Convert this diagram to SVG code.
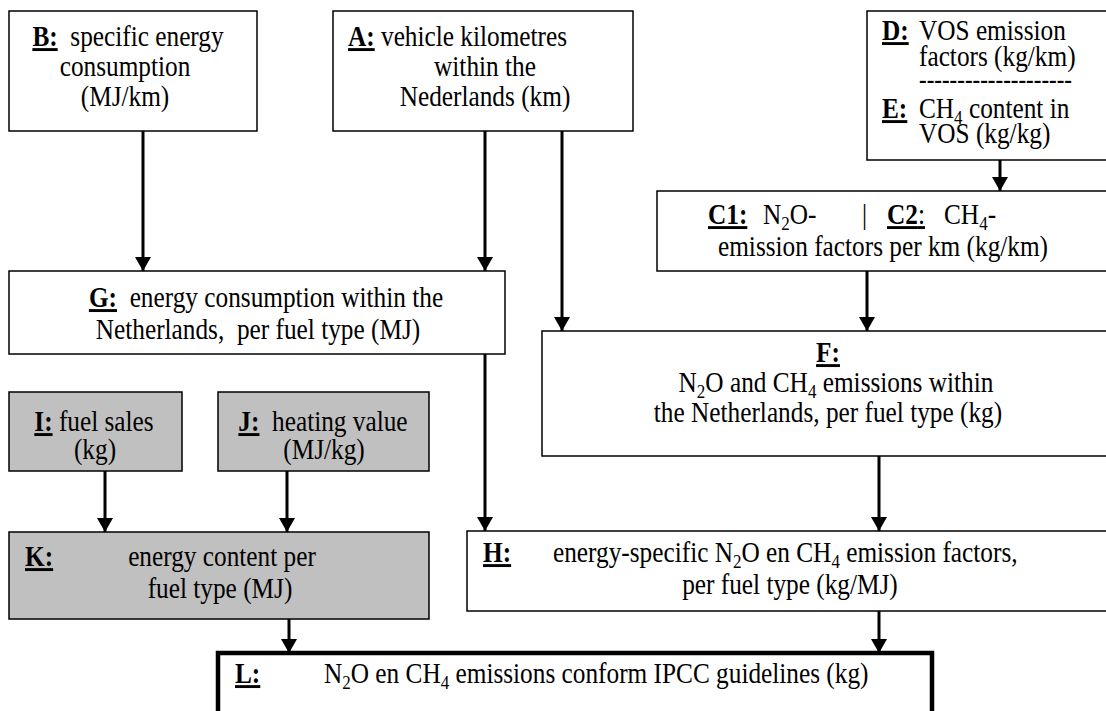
<svg xmlns="http://www.w3.org/2000/svg" width="1106" height="711" viewBox="0 0 1106 711">
<style>
.box{fill:#fff;stroke:#000;stroke-width:1.5}
.grey{fill:#c0c0c0;stroke:#000;stroke-width:1.5}
.thick{fill:#fff;stroke:#000;stroke-width:4.5}
text{font-family:"Liberation Serif","Times New Roman",serif;font-size:25.3px;fill:#000}
.c{text-anchor:middle}
.lb{font-weight:bold;text-decoration:underline}
.sub{font-size:17px}
.con line{stroke:#000;stroke-width:3}
</style>
<defs>
<marker id="ah" viewBox="0 0 14 16" refX="14" refY="8" markerWidth="14" markerHeight="16" markerUnits="userSpaceOnUse" orient="auto">
<path d="M0,0 L14,8 L0,16 Z" fill="#000"/>
</marker>
</defs>
<rect width="1106" height="711" fill="#fff"/>

<g id="B">
<rect class="box" x="9" y="11" width="248" height="120"/>
<text class="c" x="128" y="46" transform="matrix(1 0 0 1.15 0 -6.9)"><tspan class="lb">B:</tspan>&#160; specific energy</text>
<text class="c" x="125" y="76" transform="matrix(1 0 0 1.15 0 -11.4)">consumption</text>
<text class="c" x="125" y="106" transform="matrix(1 0 0 1.15 0 -15.9)">(MJ/km)</text>
</g>

<g id="A">
<rect class="box" x="333" y="11" width="300" height="120"/>
<text x="348" y="46" transform="matrix(1 0 0 1.15 0 -6.9)"><tspan class="lb">A:</tspan> vehicle kilometres</text>
<text class="c" x="485" y="76" transform="matrix(1 0 0 1.15 0 -11.4)">within the</text>
<text class="c" x="485" y="106" transform="matrix(1 0 0 1.15 0 -15.9)">Nederlands (km)</text>
</g>

<g id="D">
<rect class="box" x="867" y="11" width="245" height="149"/>
<text x="882" y="40" transform="matrix(1 0 0 1.15 0 -6)"><tspan class="lb">D:</tspan></text>
<text x="919" y="40" transform="matrix(1 0 0 1.15 0 -6)">VOS emission</text>
<text x="919" y="66" transform="matrix(1 0 0 1.15 0 -9.9)">factors (kg/km)</text>
<text x="919" y="88" font-weight="bold" textLength="153" lengthAdjust="spacingAndGlyphs">--------------------</text>
<text x="882" y="118" transform="matrix(1 0 0 1.15 0 -17.7)"><tspan class="lb">E:</tspan></text>
<text x="919" y="118" transform="matrix(1 0 0 1.15 0 -17.7)">CH<tspan class="sub" dy="5">4</tspan><tspan dy="-5"> content in</tspan></text>
<text x="919" y="143" transform="matrix(1 0 0 1.15 0 -21.45)">VOS (kg/kg)</text>
</g>

<g id="C">
<rect class="box" x="657" y="191" width="455" height="80"/>
<text x="708" y="224" transform="matrix(1 0 0 1.15 0 -33.6)"><tspan class="lb">C1:</tspan></text>
<text x="763" y="224" transform="matrix(1 0 0 1.15 0 -33.6)">N<tspan class="sub" dy="5">2</tspan><tspan dy="-5">O-</tspan></text>
<text x="862" y="224" transform="matrix(1 0 0 1.15 0 -33.6)">|</text>
<text x="887" y="224" transform="matrix(1 0 0 1.15 0 -33.6)"><tspan font-weight="bold" text-decoration="underline">C2</tspan><tspan text-decoration="underline">:</tspan></text>
<text x="944" y="224" transform="matrix(1 0 0 1.15 0 -33.6)">CH<tspan class="sub" dy="5">4</tspan><tspan dy="-5">-</tspan></text>
<text class="c" x="883" y="256" transform="matrix(1 0 0 1.15 0 -38.4)">emission factors per km (kg/km)</text>
</g>

<g id="G">
<rect class="box" x="9" y="271" width="496" height="83"/>
<text class="c" x="266" y="307" transform="matrix(1 0 0 1.15 0 -46.05)"><tspan class="lb">G:</tspan>&#160; energy consumption within the</text>
<text class="c" x="258" y="339" transform="matrix(1 0 0 1.15 0 -50.85)">Netherlands,&#160; per fuel type (MJ)</text>
</g>

<g id="F">
<rect class="box" x="542" y="331" width="570" height="125"/>
<text class="c" x="828" y="362" transform="matrix(1 0 0 1.15 0 -54.3)"><tspan class="lb">F:</tspan></text>
<text class="c" x="836" y="392" transform="matrix(1 0 0 1.15 0 -58.8)">N<tspan class="sub" dy="5">2</tspan><tspan dy="-5">O and CH</tspan><tspan class="sub" dy="5">4</tspan><tspan dy="-5"> emissions within</tspan></text>
<text class="c" x="828" y="422" transform="matrix(1 0 0 1.15 0 -63.3)">the Netherlands, per fuel type (kg)</text>
</g>

<g id="I">
<rect class="grey" x="9" y="392" width="173" height="79"/>
<text class="c" x="94" y="431" transform="matrix(1 0 0 1.15 0 -64.65)"><tspan class="lb">I:</tspan> fuel sales</text>
<text class="c" x="95" y="459" transform="matrix(1 0 0 1.15 0 -68.85)">(kg)</text>
</g>

<g id="J">
<rect class="grey" x="218" y="392" width="211" height="79"/>
<text class="c" x="323" y="431" transform="matrix(1 0 0 1.15 0 -64.65)"><tspan class="lb">J:</tspan>&#160; heating value</text>
<text class="c" x="324" y="459" transform="matrix(1 0 0 1.15 0 -68.85)">(MJ/kg)</text>
</g>

<g id="K">
<rect class="grey" x="9" y="532" width="420" height="87"/>
<text x="25" y="566" transform="matrix(1 0 0 1.15 0 -84.9)"><tspan class="lb">K:</tspan></text>
<text class="c" x="222" y="566" transform="matrix(1 0 0 1.15 0 -84.9)">energy content per</text>
<text class="c" x="220" y="598" transform="matrix(1 0 0 1.15 0 -89.7)">fuel type (MJ)</text>
</g>

<g id="H">
<rect class="box" x="467" y="531" width="645" height="80"/>
<text x="483" y="562" transform="matrix(1 0 0 1.15 0 -84.3)"><tspan class="lb">H:</tspan></text>
<text x="553" y="562" transform="matrix(1 0 0 1.15 0 -84.3)">energy-specific N<tspan class="sub" dy="5">2</tspan><tspan dy="-5">O en CH</tspan><tspan class="sub" dy="5">4</tspan><tspan dy="-5"> emission factors,</tspan></text>
<text class="c" x="790" y="594" transform="matrix(1 0 0 1.15 0 -89.1)">per fuel type (kg/MJ)</text>
</g>

<g id="L">
<rect class="thick" x="218" y="653" width="714" height="80"/>
<text x="235" y="683" transform="matrix(1 0 0 1.15 0 -102.45)"><tspan class="lb">L:</tspan></text>
<text x="324" y="683" transform="matrix(1 0 0 1.15 0 -102.45)">N<tspan class="sub" dy="5">2</tspan><tspan dy="-5">O en CH</tspan><tspan class="sub" dy="5">4</tspan><tspan dy="-5"> emissions conform IPCC guidelines (kg)</tspan></text>
</g>

<g id="connectors" class="con">
<line x1="143" y1="131" x2="143" y2="271" marker-end="url(#ah)"/>
<line x1="485" y1="131" x2="485" y2="271" marker-end="url(#ah)"/>
<line x1="562" y1="131" x2="562" y2="331" marker-end="url(#ah)"/>
<line x1="1000" y1="160" x2="1000" y2="191" marker-end="url(#ah)"/>
<line x1="867" y1="271" x2="867" y2="331" marker-end="url(#ah)"/>
<line x1="485" y1="354" x2="485" y2="531" marker-end="url(#ah)"/>
<line x1="879" y1="456" x2="879" y2="531" marker-end="url(#ah)"/>
<line x1="105" y1="471" x2="105" y2="532" marker-end="url(#ah)"/>
<line x1="287" y1="471" x2="287" y2="532" marker-end="url(#ah)"/>
<line x1="289" y1="619" x2="289" y2="653" marker-end="url(#ah)"/>
<line x1="879" y1="611" x2="879" y2="653" marker-end="url(#ah)"/>
</g>
</svg>
